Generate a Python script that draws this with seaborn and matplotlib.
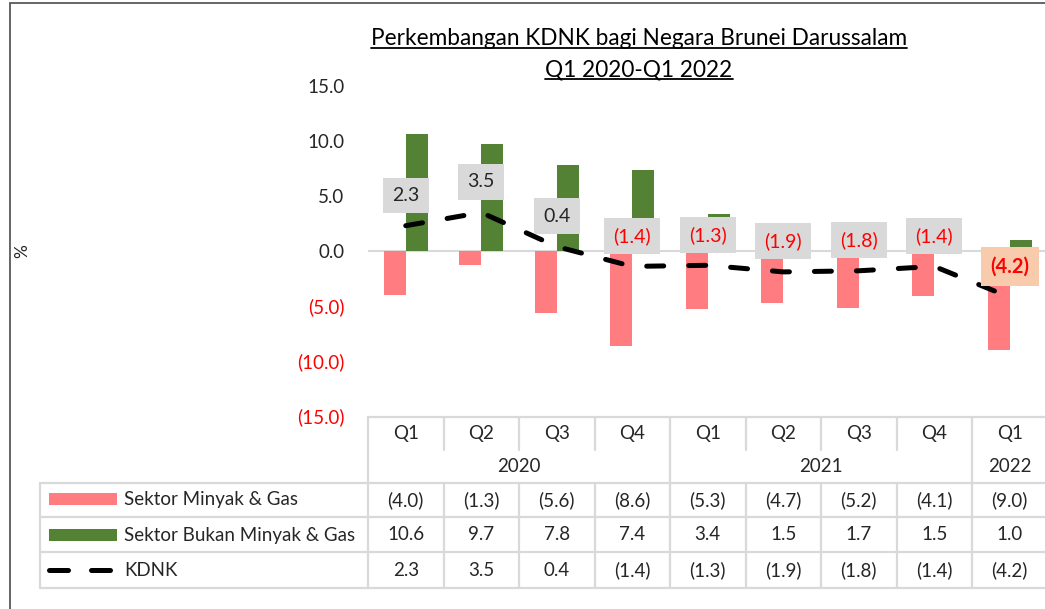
import numpy as np
import matplotlib.pyplot as plt
import seaborn as sns
import pandas as pd
from matplotlib.lines import Line2D
from matplotlib.patches import Rectangle

quarters = ["Q1", "Q2", "Q3", "Q4", "Q1", "Q2", "Q3", "Q4", "Q1"]
years = ["2020", "2020", "2020", "2020", "2021", "2021", "2021", "2021", "2022"]
minyak = [-4.0, -1.3, -5.6, -8.6, -5.3, -4.7, -5.2, -4.1, -9.0]
bukan = [10.6, 9.7, 7.8, 7.4, 3.4, 1.5, 1.7, 1.5, 1.0]
kdnk = [2.3, 3.5, 0.4, -1.4, -1.3, -1.9, -1.8, -1.4, -4.2]
names = ["Sektor Minyak & Gas", "Sektor Bukan Minyak & Gas", "KDNK"]
yticks = [-15, -10, -5, 0, 5, 10, 15]

pink = "#FF7C80"
green = "#548235"
grid = "#D9D9D9"
W, H = 1045, 609

sns.set_theme(style="white")
plt.rcParams['font.family'] = ['Lato', 'DejaVu Sans']


def fmt(v):
    return f"({abs(v):.1f})" if v < 0 else f"{v:.1f}"


def px(x, y):
    return x / W, 1 - y / H


n = len(quarters)
labels = [f"{q} {y}" for q, y in zip(quarters, years)]
df = pd.DataFrame({
    "suku": labels * 2,
    "sektor": [names[0]] * n + [names[1]] * n,
    "nilai": minyak + bukan,
})

fig = plt.figure(figsize=(W / 100, H / 100), dpi=100)
fig.patch.set_facecolor("white")
x0, col = 368, 75.5
ax = fig.add_axes([x0 / W, 1 - 416 / H, col * n / W, 330 / H])

sns.barplot(data=df, x="suku", y="nilai", hue="sektor", order=labels,
            hue_order=names[:2], palette=[pink, green], width=0.58,
            saturation=1, linewidth=0, legend=False, ax=ax, zorder=2)
ax.axhline(0, color=grid, lw=1.5, zorder=1)
sns.lineplot(x=np.arange(n), y=kdnk, color="black", lw=3.6, ax=ax, zorder=3)
ln = ax.lines[-1]
ln.set_dashes((3.4, 5))
ln.set_dash_capstyle("round")

for i, v in enumerate(kdnk):
    last = i == n - 1
    ax.annotate(fmt(v), (i, v), xytext=(0, 22), textcoords="offset points",
                ha="center", va="center", fontsize=14.5 if last else 14,
                fontweight="bold" if last else "normal",
                color="red" if v < 0 else "#262626", zorder=5,
                bbox=dict(boxstyle="square,pad=0.47", fc="#F8CBAD" if last else grid, ec="none"))

ax.set_xlim(-0.5, n - 0.5)
ax.set_ylim(-15, 15)
ax.set_xticks([])
ax.set_xlabel("")
ax.set_ylabel("")
ax.set_yticks(yticks)
ax.set_yticklabels([fmt(v) for v in yticks], fontsize=13.5)
for t, v in zip(ax.get_yticklabels(), yticks):
    t.set_color("red" if v < 0 else "#262626")
ax.tick_params(axis="y", length=0, pad=17)
for s in ax.spines.values():
    s.set_visible(False)
ax.patch.set_alpha(0)

fig.text(*px(22, 251), "%", rotation=90, ha="center", va="center", fontsize=12.5, color="#262626")

# outer frame
fig.add_artist(Rectangle(px(10, 612), 1100 / W, 609 / H, transform=fig.transFigure,
                         fill=False, ec="#595959", lw=1.3))

# data table
right = x0 + col * n
lkw = dict(color=grid, lw=1.6, transform=fig.transFigure)


def hline(y, xa, xb):
    fig.add_artist(Line2D([xa / W, xb / W], [1 - y / H, 1 - y / H], **lkw))


def vline(x, ya, yb):
    fig.add_artist(Line2D([x / W, x / W], [1 - ya / H, 1 - yb / H], **lkw))


hline(417, x0, right)
for r in [483, 517, 552, 588]:
    hline(r, 40, right)
vline(40, 483, 588)
for k in range(n + 1):
    xb = x0 + col * k
    year_edge = k == 0 or k == n or years[k] != years[k - 1]
    vline(xb, 417, 450)
    if year_edge:
        vline(xb, 450, 483)
    vline(xb, 483, 588)

tkw = dict(fontsize=13.5, color="#262626", va="center")
for i in range(n):
    cx = x0 + col * (i + 0.5)
    fig.text(*px(cx, 434), quarters[i], ha="center", **tkw)
    for yy, arr in zip([500, 535, 570], [minyak, bukan, kdnk]):
        fig.text(*px(cx, yy), fmt(arr[i]), ha="center", **tkw)
for yr in dict.fromkeys(years):
    idx = [i for i, y in enumerate(years) if y == yr]
    cx = x0 + col * (np.mean(idx) + 0.5)
    fig.text(*px(cx, 466), yr, ha="center", **tkw)

for yy, nm in zip([500, 535, 570], names):
    fig.text(*px(124, yy), nm, ha="left", **tkw)
fig.add_artist(Rectangle(px(49, 505), 68 / W, 12 / H, transform=fig.transFigure, fc=pink, ec="none"))
fig.add_artist(Rectangle(px(49, 541), 68 / W, 12 / H, transform=fig.transFigure, fc=green, ec="none"))
for xa, xb in [(49, 68), (91, 110)]:
    fig.add_artist(Line2D([xa / W, xb / W], [1 - 570 / H] * 2, color="black", lw=3.6,
                          solid_capstyle="round", transform=fig.transFigure))

# title with underline
titles = []
for yy, s in [(45, "Perkembangan KDNK bagi Negara Brunei Darussalam"), (76, "Q1 2020-Q1 2022")]:
    titles.append((fig.text(*px(639, yy), s, ha="center", va="baseline", fontsize=16.3, color="black"), yy))
fig.canvas.draw()
r = fig.canvas.get_renderer()
for t, yy in titles:
    bb = t.get_window_extent(r)
    fig.add_artist(Line2D([bb.x0 / W, bb.x1 / W], [1 - (yy + 3) / H] * 2, color="black", lw=1.3,
                          transform=fig.transFigure))

fig.savefig("out.png", dpi=100)
